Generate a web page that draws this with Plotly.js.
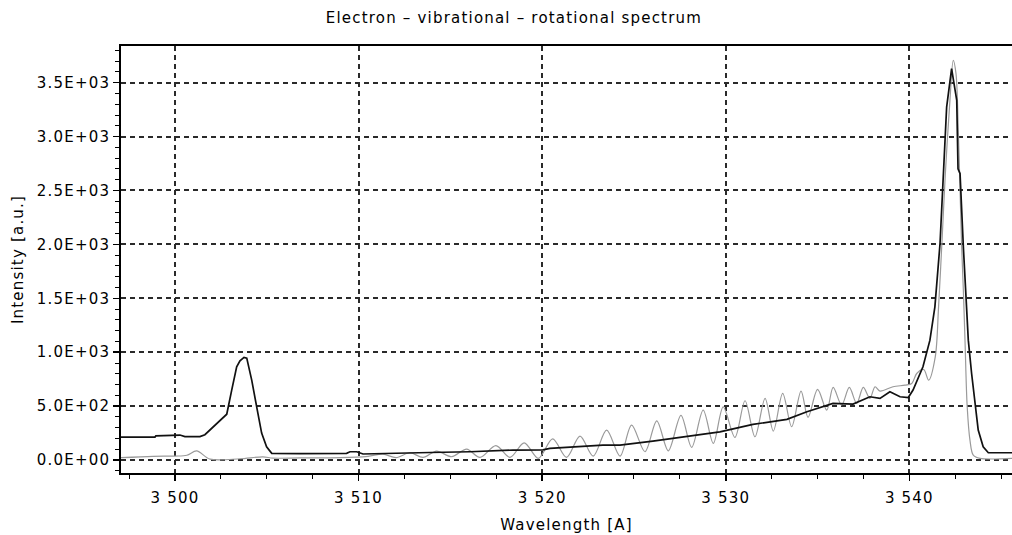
<!DOCTYPE html>
<html>
<head>
<meta charset="utf-8">
<script src="https://cdn.plot.ly/plotly-3.0.1.min.js"></script>
<style>html,body{margin:0;padding:0;background:#fff;}#chart{width:1012px;height:535px;}#chart text{letter-spacing:1.2px;}</style>
</head>
<body>
<div id="chart"></div>
<script>
// Black series (wavelength in Å, intensity in a.u.)
const blackX = [3497.06,3498.91,3498.96,3500.00,3500.27,3500.54,3501.36,3501.63,3502.82,3503.09,3503.36,3503.54,3503.76,3503.91,3504.18,3504.45,3504.72,3504.99,3505.27,3506.81,3509.35,3509.53,3509.90,3510.24,3512.25,3513.89,3516.07,3518.41,3520.04,3520.42,3523.31,3524.24,3526.03,3527.89,3529.68,3531.48,3533.33,3534.42,3535.84,3536.93,3537.85,3538.40,3538.94,3539.49,3539.94,3540.20,3540.74,3541.12,3541.39,3541.67,3541.85,3542.03,3542.30,3542.42,3542.58,3542.65,3542.76,3542.94,3543.08,3543.21,3543.39,3543.57,3543.75,3544.02,3544.30,3545.59];
const blackY = [213,213,225,228,232,218,218,235,425,649,865,920,952,945,741,494,250,123,62,60,62,77,77,56,60,70,77,93,95,108,139,139,176,222,262,331,377,448,525,519,587,572,633,587,580,649,865,1112,1421,2008,2595,3274,3630,3500,3336,2700,2657,1977,1483,1112,803,556,278,123,68,68];

// Gray series
const grayX = [3497.06,3498.80,3500.00,3500.65,3501.18,3501.91,3503.54,3504.79,3505.34,3506.81,3508.99,3510.51,3511.33,3512.04,3512.80,3513.51,3514.25,3515.07,3515.89,3516.61,3517.48,3518.25,3519.02,3519.79,3520.57,3521.33,3522.06,3522.78,3523.51,3524.24,3524.87,3525.60,3526.24,3526.87,3527.56,3528.14,3528.77,3529.32,3529.86,3530.50,3531.05,3531.59,3532.14,3532.59,3533.10,3533.59,3534.10,3534.48,3535.00,3535.50,3535.85,3536.31,3536.73,3537.13,3537.49,3537.85,3538.13,3538.40,3539.11,3539.76,3540.13,3540.40,3540.78,3541.05,3541.41,3541.59,3541.78,3541.96,3542.21,3542.39,3542.54,3542.67,3542.76,3542.85,3542.94,3543.03,3543.15,3543.30,3543.48,3543.85,3545.59];
const grayY = [22,35,37,45,85,8,12,30,18,20,22,35,55,22,68,24,83,31,102,25,133,25,160,16,197,25,222,37,278,37,324,77,364,86,414,118,463,155,494,210,550,216,572,269,618,309,639,396,655,463,674,510,674,525,674,572,680,640,680,695,710,803,840,741,957,1421,2039,2657,3336,3707,3584,3027,2502,1977,1575,1112,494,185,46,16,16];

// Tick labels
const xTickVals = [3500,3510,3520,3530,3540];
const xTickText = ["3 500","3 510","3 520","3 530","3 540"];
const yTickVals = [0,500,1000,1500,2000,2500,3000,3500];
const yTickText = ["0.0E+00","5.0E+02","1.0E+03","1.5E+03","2.0E+03","2.5E+03","3.0E+03","3.5E+03"];

const FONT = "DejaVu Sans, Liberation Sans, Arial, sans-serif";

const traces = [
  {x: grayX, y: grayY, type: 'scatter', mode: 'lines', line: {color: '#9a9a9a', width: 1.2, shape: 'spline', smoothing: 0.9}, hoverinfo: 'skip'},
  {x: blackX, y: blackY, type: 'scatter', mode: 'lines', line: {color: '#111111', width: 1.7}, hoverinfo: 'skip'}
];

const layout = {
  width: 1012, height: 535,
  margin: {l: 121, r: 0, t: 46, b: 62, pad: 0},
  paper_bgcolor: '#fff', plot_bgcolor: '#fff',
  showlegend: false,
  font: {family: FONT, size: 15, color: '#000'},
  title: {text: 'Electron – vibrational – rotational spectrum', x: 0.441, xref: 'paper', xanchor: 'center', y: 0.967, yref: 'container', yanchor: 'middle', font: {family: FONT, size: 15, color: '#000'}},
  xaxis: {
    range: [3497.06, 3545.59], autorange: false,
    tickvals: xTickVals, ticktext: xTickText,
    ticks: 'outside', ticklen: 6, tickwidth: 1.5, tickcolor: '#000',
    ticklabelstandoff: 4,
    minor: {ticks: 'outside', dtick: 2.5, tick0: 3500, ticklen: 4, tickwidth: 1, tickcolor: '#000', showgrid: false},
    showline: true, linecolor: '#000', linewidth: 1.8, mirror: true,
    showgrid: true, gridcolor: '#2a2a2a', gridwidth: 2, griddash: '5px,4px',
    zeroline: false,
    tickfont: {family: FONT, size: 15, color: '#000'},
    title: {text: 'Wavelength [A]', font: {family: FONT, size: 15, color: '#000'}, standoff: 14}
  },
  yaxis: {
    range: [-120, 3840], autorange: false,
    tickvals: yTickVals, ticktext: yTickText,
    ticks: 'outside', ticklen: 6, tickwidth: 1.5, tickcolor: '#000',
    minor: {ticks: 'outside', dtick: 100, tick0: 0, ticklen: 4, tickwidth: 1, tickcolor: '#000', showgrid: false},
    showline: true, linecolor: '#000', linewidth: 1.8,
    showgrid: true, gridcolor: '#2a2a2a', gridwidth: 2, griddash: '5px,4px',
    zeroline: false,
    tickfont: {family: FONT, size: 15, color: '#000'},
    title: {text: 'Intensity [a.u.]', font: {family: FONT, size: 15, color: '#000'}, standoff: 18}
  }
};

Plotly.newPlot('chart', traces, layout, {staticPlot: true, displayModeBar: false});
</script>
</body>
</html>
